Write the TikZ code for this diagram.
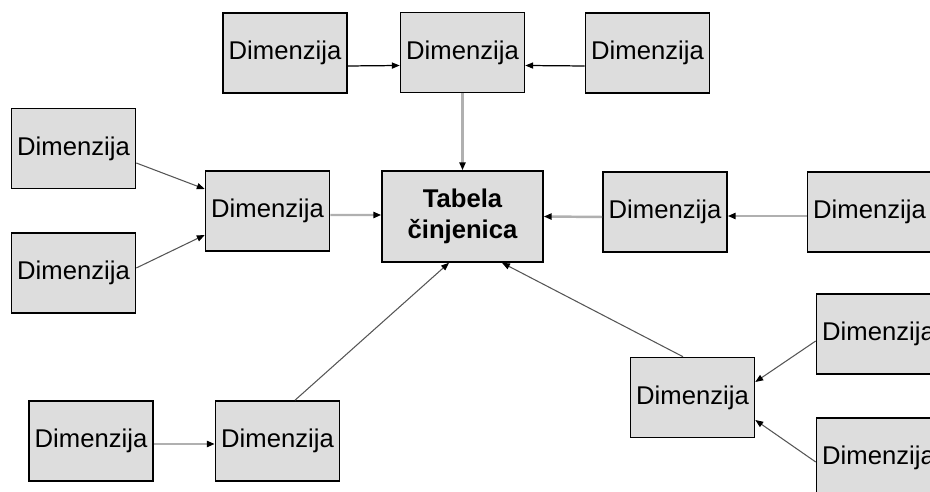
\documentclass[tikz,border=0pt]{standalone}
\usepackage{fontspec}
\setmainfont{Liberation Sans}
\usepackage{xcolor}
\usetikzlibrary{arrows.meta}

\definecolor{boxgray}{HTML}{DDDDDD}
\definecolor{lightline}{HTML}{B0B0B0}
\definecolor{darkline}{HTML}{555555}

\begin{document}
\begin{tikzpicture}[
    x=0.02cm, y=-0.02cm,
    font=\fontsize{14.6}{17.5}\selectfont,
    dimbox/.style={rectangle, draw=black, line width=0.9pt, fill=boxgray, minimum width=2.48cm, minimum height=1.6cm, inner sep=1pt},
    factbox/.style={dimbox, minimum width=3.22cm, minimum height=1.82cm, align=center, font=\fontsize{14.6}{17.5}\selectfont\bfseries},
    blackarrow/.style={-{Triangle[length=4.5pt,width=3.5pt,color=black]}, draw=black, line width=0.7pt},
    grayarrow/.style={-{Triangle[length=4.5pt,width=3.5pt,color=black]}, draw=lightline, line width=1.4pt},
    darkarrow/.style={-{Triangle[length=4.5pt,width=3.5pt,color=black]}, draw=darkline, line width=0.6pt}
]

% Page frame
\useasboundingbox (0,0) rectangle (930,492);
\clip (0,0) rectangle (930,492);

% Fact table
\node[factbox] (fact) at (462.5,216.5) {Tabela\\činjenica};

% Dimensions, top row
\node[dimbox] (dimT1) at (285,53) {Dimenzija};
\node[dimbox] (dimT2) at (462.5,52.5) {Dimenzija};
\node[dimbox] (dimT3) at (647.5,53) {Dimenzija};

% Dimensions, left
\node[dimbox] (dimL1) at (73.5,148.5) {Dimenzija};
\node[dimbox] (dimL2) at (73.5,273) {Dimenzija};
\node[dimbox] (dimL) at (267.5,211) {Dimenzija};

% Dimensions, right
\node[dimbox] (dimR) at (665,212) {Dimenzija};
\node[dimbox] (dimR2) at (869.5,212) {Dimenzija};

% Dimensions, bottom
\node[dimbox] (dimB1) at (91,441) {Dimenzija};
\node[dimbox] (dimB) at (277.5,441) {Dimenzija};
\node[dimbox] (dimBR) at (692.5,397.5) {Dimenzija};
\node[dimbox] (dimBR1) at (878.5,334) {Dimenzija};
\node[dimbox] (dimBR2) at (878.5,458) {Dimenzija};

% Links
\draw[blackarrow] ([yshift=-0.26cm]dimT1.east) -- ([yshift=-0.26cm]dimT2.west);
\draw[blackarrow] ([yshift=-0.26cm]dimT3.west) -- ([yshift=-0.26cm]dimT2.east);
\draw[grayarrow] (dimT2.south) -- (fact.north);

\draw[darkarrow] ([yshift=-0.29cm]dimL1.east) -- ([yshift=0.44cm]dimL.west);
\draw[darkarrow] ([yshift=0.1cm]dimL2.east) -- ([yshift=-0.48cm]dimL.west);
\draw[grayarrow] ([yshift=-0.08cm]dimL.east) -- ([yshift=0.03cm]fact.west);

\draw[grayarrow] ([yshift=-0.1cm]dimR.west) -- (fact.east);
\draw[grayarrow] ([yshift=-0.08cm]dimR2.west) -- ([yshift=-0.08cm]dimR.east);

\draw[grayarrow] ([yshift=-0.06cm]dimB1.east) -- ([yshift=-0.06cm]dimB.west);
\draw[darkarrow] ([xshift=0.35cm]dimB.north) -- ([xshift=-0.27cm]fact.south);
\draw[darkarrow] ([xshift=-0.19cm]dimBR.north) -- ([xshift=0.79cm]fact.south);

\draw[darkarrow] ([yshift=-0.14cm]dimBR1.west) -- ([yshift=0.31cm]dimBR.east);
\draw[darkarrow] ([yshift=-0.08cm]dimBR2.west) -- ([yshift=-0.45cm]dimBR.east);

\end{tikzpicture}
\end{document}
